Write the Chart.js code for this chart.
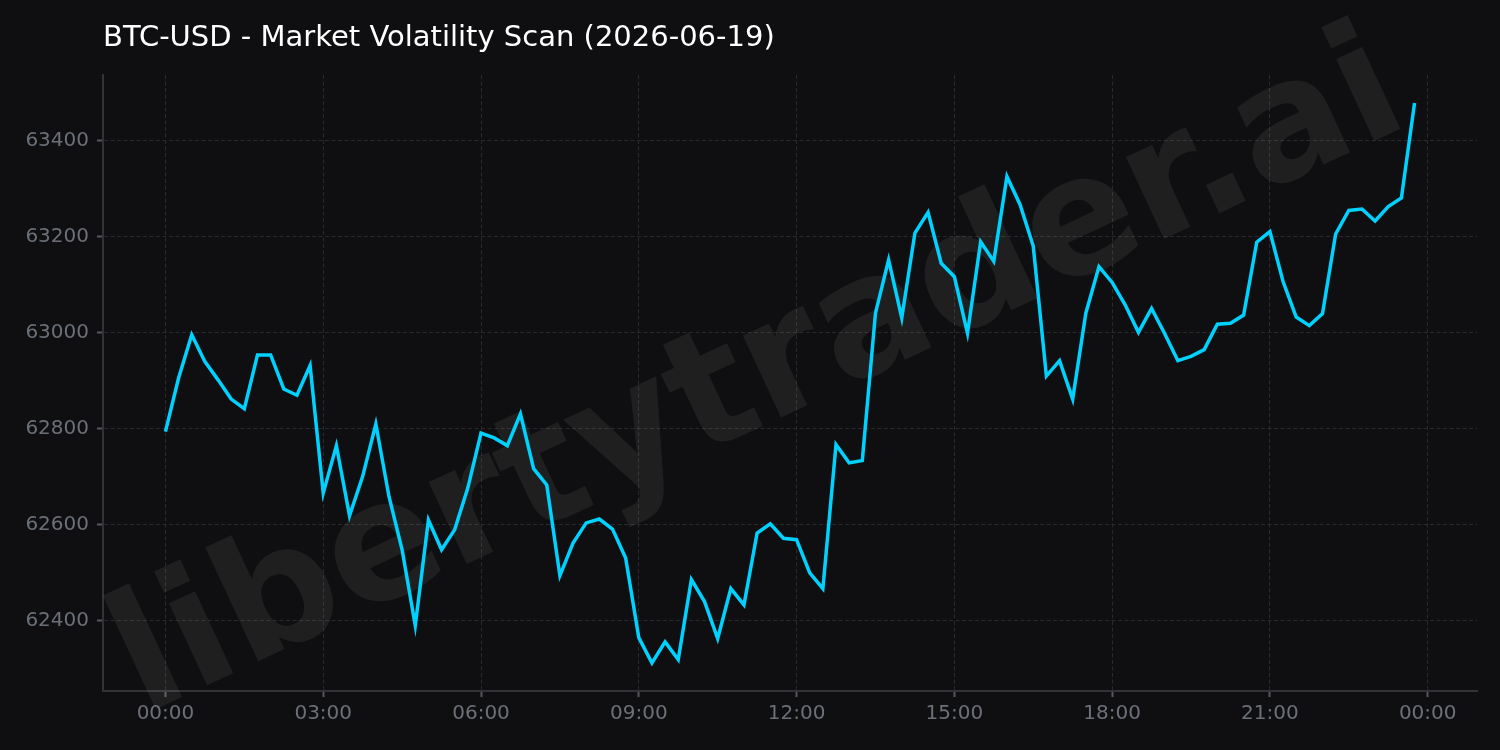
<!DOCTYPE html>
<html>
<head>
<meta charset="utf-8">
<script src="https://cdn.jsdelivr.net/npm/chart.js@4.4.1/dist/chart.umd.min.js"></script>
<style>
  html, body { margin: 0; padding: 0; background: #0f0f11; }
  #wrap { width: 1500px; height: 750px; }
</style>
</head>
<body>
<div id="wrap"><canvas id="chart" width="1500" height="750"></canvas></div>
<script>
// BTC-USD price every 15 minutes, 00:00 -> 23:45
const prices = [
  62794, 62906, 62996, 62940, 62902, 62862, 62842, 62954,
  62954, 62883, 62870, 62932, 62666, 62765, 62619, 62701,
  62810, 62659, 62548, 62390, 62610, 62548, 62590, 62677,
  62791, 62781, 62765, 62831, 62717, 62683, 62494, 62562,
  62604, 62612, 62591, 62531, 62365, 62312, 62356, 62319,
  62486, 62440, 62363, 62467, 62433, 62583, 62602, 62572,
  62569, 62500, 62467, 62767, 62729, 62734, 63041, 63152,
  63031, 63208, 63251, 63145, 63117, 62999, 63190, 63149,
  63326, 63267, 63181, 62910, 62942, 62862, 63041, 63138,
  63105, 63058, 63001, 63051, 62998, 62942, 62951, 62965,
  63018, 63020, 63037, 63189, 63211, 63107, 63033, 63015,
  63040, 63206, 63255, 63258, 63233, 63263, 63281, 63479
];
const stepHours = 0.25;
const hourTicks = [0, 3, 6, 9, 12, 15, 18, 21, 24];
const priceTicks = [62400, 62600, 62800, 63000, 63200, 63400];
const title = 'BTC-USD - Market Volatility Scan (2026-06-19)';
const watermark = 'libertytrader.ai';

const points = prices.map((p, i) => ({ x: i * stepHours, y: p }));

const span = (prices.length - 1) * stepHours;
const xPad = span * 0.05;
const yMin = Math.min(...prices), yMax = Math.max(...prices);
const yPad = (yMax - yMin) * 0.05;

const tickColor = '#6b7078';
const gridColor = '#2a2a2e';
const spineColor = '#333337';
const markColor = '#55585e';

const bgPlugin = {
  id: 'bg',
  beforeDraw(chart) {
    const ctx = chart.ctx;
    ctx.save();
    ctx.fillStyle = '#0f0f11';
    ctx.fillRect(0, 0, chart.width, chart.height);
    ctx.fillStyle = '#ffffff';
    ctx.font = '29px "DejaVu Sans"';
    ctx.textAlign = 'left';
    ctx.textBaseline = 'alphabetic';
    ctx.fillText(title, chart.chartArea.left, 46);
    ctx.restore();
  },
  beforeDatasetsDraw(chart) {
    const ctx = chart.ctx;
    ctx.save();
    ctx.translate(760, 380);
    ctx.rotate(-25 * Math.PI / 180);
    ctx.fillStyle = 'rgba(255,255,255,0.065)';
    ctx.font = 'bold 165px "DejaVu Sans"';
    ctx.textAlign = 'center';
    ctx.textBaseline = 'middle';
    ctx.fillText(watermark, 0, 0);
    ctx.restore();
  }
};

function hhmm(v) {
  const h = Math.round(v) % 24;
  return String(h).padStart(2, '0') + ':00';
}

const gridOpts = {
  color: gridColor,
  lineWidth: 1,
  tickLength: 6,
  tickWidth: 2,
  tickColor: markColor
};
// in Chart.js v4 border.dash sets the dash of the grid lines
const borderOpts = { display: true, color: spineColor, width: 2, dash: [4, 2.5] };

new Chart(document.getElementById('chart'), {
  type: 'line',
  data: {
    datasets: [{
      data: points,
      borderColor: '#00d2ff',
      borderWidth: 3.5,
      pointRadius: 0,
      tension: 0,
      fill: false
    }]
  },
  options: {
    responsive: false,
    animation: false,
    layout: { padding: { left: 0, right: 23, top: 75, bottom: 0 } },
    plugins: { legend: { display: false }, tooltip: { enabled: false } },
    scales: {
      x: {
        type: 'linear',
        min: -xPad,
        max: span + xPad,
        afterBuildTicks: s => { s.ticks = hourTicks.map(v => ({ value: v })); },
        afterFit: s => { s.height = 59; },
        ticks: {
          callback: v => hhmm(v),
          color: tickColor,
          font: { family: 'DejaVu Sans', size: 20 },
          padding: 5,
          maxRotation: 0
        },
        grid: gridOpts,
        border: borderOpts
      },
      y: {
        type: 'linear',
        min: yMin - yPad,
        max: yMax + yPad,
        afterBuildTicks: s => { s.ticks = priceTicks.map(v => ({ value: v })); },
        afterFit: s => { s.width = 103; },
        ticks: {
          callback: v => String(v),
          color: tickColor,
          font: { family: 'DejaVu Sans', size: 20 },
          padding: 8
        },
        grid: gridOpts,
        border: borderOpts
      }
    }
  },
  plugins: [bgPlugin]
});
</script>
</body>
</html>
